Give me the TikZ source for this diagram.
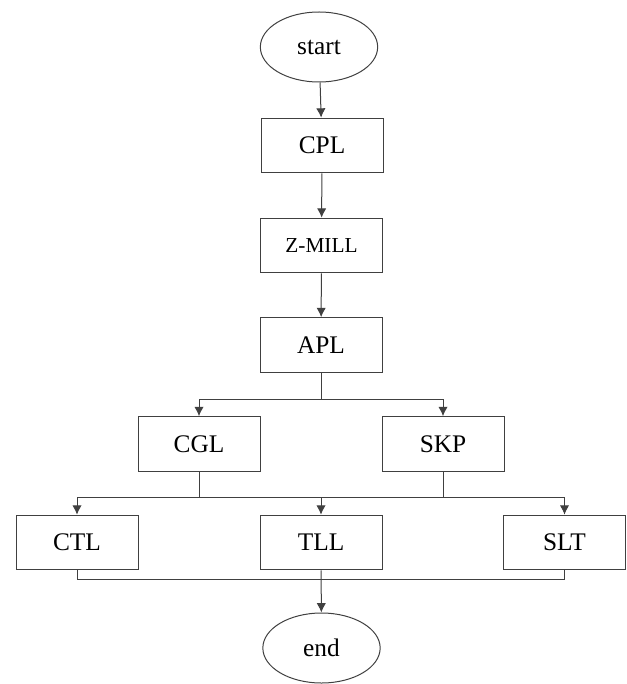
\documentclass[tikz,border=0pt]{standalone}
\usepackage{fontspec}
\setmainfont{Liberation Serif}
\usetikzlibrary{shapes.geometric,arrows.meta}
\begin{document}
\begin{tikzpicture}[x=0.75pt, y=-0.75pt, line width=0.75pt, draw=black!75,
  flow/.style={-{Latex[length=7pt,width=7pt]}},
  procbox/.style={draw=black!75, rectangle, minimum width=91.5pt, minimum height=41pt, inner sep=0pt, font=\rmfamily\fontsize{19}{22}\selectfont},
  termnode/.style={draw=black!75, ellipse, minimum width=88pt, minimum height=52.5pt, inner sep=0pt, font=\rmfamily\fontsize{19}{22}\selectfont}]
\useasboundingbox (0,0) rectangle (627,684);
\node[termnode] (start) at (319,47) {start};
\node[procbox] (CPL) at (322,145.5) {CPL};
\node[procbox, font=\rmfamily\fontsize{16}{19}\selectfont] (ZMILL) at (321.5,245.5) {Z-MILL};
\node[procbox] (APL) at (321,345) {APL};
\node[procbox] (CGL) at (199,444) {CGL};
\node[procbox] (SKP) at (443,444) {SKP};
\node[procbox] (CTL) at (77,542.5) {CTL};
\node[procbox] (TLL) at (321,542.5) {TLL};
\node[procbox] (SLT) at (564.5,542.5) {SLT};
\node[termnode] (end) at (321.5,648) {end};
\coordinate (split) at (321,399);
\coordinate (join) at (321,497);
\coordinate (merge) at (321,579);
\draw [flow] (start) -- (CPL);
\draw [flow] (CPL) -- (ZMILL);
\draw [flow] (ZMILL) -- (APL);
\draw (APL) -- (split);
\draw [flow] (split) -| (CGL);
\draw [flow] (split) -| (SKP);
\draw (CGL) |- (join);
\draw (SKP) |- (join);
\draw [flow] (join) -| (CTL);
\draw [flow] (join) -- (TLL);
\draw [flow] (join) -| (SLT);
\draw (CTL) |- (merge);
\draw (SLT) |- (merge);
\draw [flow] (TLL) -- (end);
\end{tikzpicture}
\end{document}
